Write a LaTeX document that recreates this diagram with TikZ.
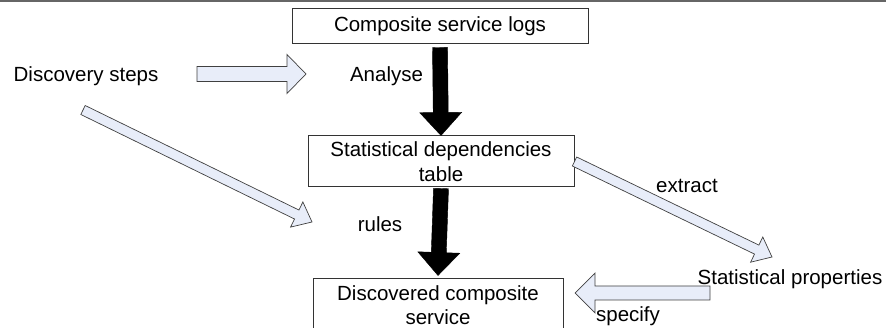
\documentclass[tikz,border=0pt]{standalone}
\usepackage{fontspec}
\setmainfont{Liberation Sans}
\usetikzlibrary{calc,positioning}
\definecolor{arrowblue}{RGB}{232,237,249}

\newcommand{\fatarrow}[6][]{%
  \draw[#1] ($(#2)!#4!90:(#3)$)
    -- ($(#3)!#6!(#2)!#4!90:(#3)$)
    -- ($(#3)!#6!(#2)!#5!90:(#3)$)
    -- (#3)
    -- ($(#3)!#6!(#2)!#5!-90:(#3)$)
    -- ($(#3)!#6!(#2)!#4!-90:(#3)$)
    -- ($(#2)!#4!-90:(#3)$) -- cycle;}

\begin{document}
\begin{tikzpicture}[x=1pt, y=-1pt, font=\fontsize{20.5}{24.5}\selectfont,
  box/.style={draw=black!80, line width=1pt, align=center, inner sep=0pt},
  note/.style={anchor=base, inner sep=0pt},
  hollow/.style={draw=black!75, line width=0.7pt, fill=arrowblue},
  heavy/.style={draw=black, fill=black}]
\useasboundingbox (0,0) rectangle (886,328);
\draw [black!60, line width=2pt] (0,1) -- (886,1);

\node (logs) at (440,26.5) [box, minimum width=296pt, minimum height=35pt] {Composite service logs};
\node (table) at (441,161.5) [box, minimum width=266pt, minimum height=51pt] {Statistical dependencies\\table};
\node (found) at (438,305) [box, minimum width=250pt, minimum height=53pt] {Discovered composite\\service};

\coordinate (logs-out) at ($(logs.south)+(0,3)$);
\coordinate (table-out) at ($(table.south)+(0,1)$);
\coordinate (found-in) at ($(found.north)+(0,-2.5)$);
\coordinate (steps-out) at (197,74);
\coordinate (analyse-in) at (306,74);
\coordinate (steps-down) at (83,110);
\coordinate (rules-in) at (312,222);
\coordinate (props-in) at (772,257);
\coordinate (props-out) at (710,293);
\coordinate (found-right) at (575,293);

\fatarrow[heavy]{logs-out}{table.north}{7.5pt}{21pt}{23pt}
\fatarrow[heavy]{table-out}{found-in}{7.5pt}{21pt}{23pt}
\fatarrow[hollow]{steps-out}{analyse-in}{7.5pt}{19.5pt}{19pt}
\fatarrow[hollow]{steps-down}{rules-in}{5pt}{14pt}{17pt}
\fatarrow[hollow]{table.east}{props-in}{5pt}{14pt}{17pt}
\fatarrow[hollow]{props-out}{found-right}{7pt}{20pt}{20pt}

\node (steps) at (86,82) [note] {Discovery steps};
\node (analyse) at (386.5,82) [note] {Analyse};
\node (rules) at (380,232) [note] {rules};
\node (extract) at (687,193) [note] {extract};
\node (props) at (790,285) [note] {Statistical properties};
\node (specify) at (628,322) [note] {specify};
\end{tikzpicture}
\end{document}
